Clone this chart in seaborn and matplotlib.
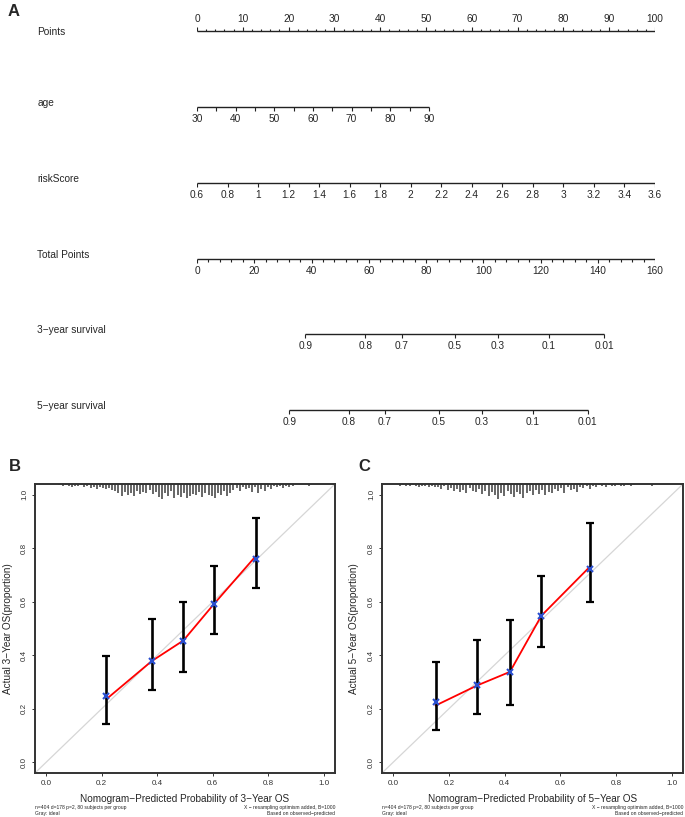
import numpy as np
import pandas as pd
import matplotlib
matplotlib.use('Agg')
import matplotlib.pyplot as plt
import seaborn as sns

# ---- nomogram (panel A) ----
points_ticks = [0, 10, 20, 30, 40, 50, 60, 70, 80, 90, 100]
age_ticks = [30, 40, 50, 60, 70, 80, 90]
age_max_points = 50.65          # points given to age = 90
risk_ticks = [0.6, 0.8, 1, 1.2, 1.4, 1.6, 1.8, 2, 2.2, 2.4, 2.6, 2.8, 3, 3.2, 3.4, 3.6]
total_ticks = [0, 20, 40, 60, 80, 100, 120, 140, 160]
surv_labels = ['0.9', '0.8', '0.7', '0.5', '0.3', '0.1', '0.01']
surv3_total = [37.9, 58.8, 71.5, 90.1, 105.0, 123.0, 142.2]
surv5_total = [32.2, 53.0, 65.7, 84.4, 99.4, 117.4, 136.5]

# ---- calibration, 3-year (panel B) ----
b_pred = [0.217, 0.380, 0.494, 0.603, 0.756]
b_obs = [0.236, 0.378, 0.455, 0.590, 0.772]
b_corr = [0.248, 0.378, 0.452, 0.593, 0.761]
b_lo = [0.143, 0.272, 0.339, 0.481, 0.652]
b_hi = [0.399, 0.535, 0.600, 0.733, 0.913]
b_spikes = [1, 2, 1, 2, 3, 2, 2, 1, 3, 2,
            4, 3, 5, 3, 4, 5, 4, 6, 7,
            9, 12, 8, 11, 9, 12, 7, 10, 8, 9, 6,
            10, 8, 13, 15, 9, 12, 7, 14, 11, 13, 9, 14, 12, 10,
            11, 8, 13, 9, 11, 12, 14, 9, 11, 7, 12, 9,
            6, 4, 7, 3, 5, 4, 8, 3, 9, 5, 7, 3,
            5, 2, 3, 2, 4, 2, 3, 2]
b_spike_range = (0.048, 0.887)
b_lone = (0.946, 2)

# ---- calibration, 5-year (panel C) ----
c_pred = [0.152, 0.301, 0.419, 0.532, 0.705]
c_obs = [0.212, 0.287, 0.338, 0.548, 0.730]
c_corr = [0.225, 0.287, 0.338, 0.548, 0.722]
c_lo = [0.122, 0.179, 0.215, 0.429, 0.600]
c_hi = [0.374, 0.457, 0.530, 0.696, 0.894]
c_spikes = [2, 1, 2, 2, 1, 2, 3, 2, 2, 3, 2, 3,
            3, 5, 2, 6, 4, 7, 5, 8, 6, 9, 4, 7, 8, 5,
            10, 7, 12, 8, 11, 15, 9, 12, 7, 10, 13, 8, 10, 14, 9, 7, 11, 6,
            10, 6, 11, 8, 9, 5, 7, 4, 9, 3, 6, 5, 8, 3, 4, 2, 5,
            2, 3, 1, 2, 3, 1, 2, 2, 1, 2, 2, 1, 2, 1]
c_spike_range = (0.025, 0.864)
c_lone = (0.930, 2)

foot_left = ['n=404 d=178 p=2, 80 subjects per group', 'Gray: ideal']
foot_right = ['X \u2212 resampling optimism added, B=1000', 'Based on observed\u2212predicted']

sns.set_style('white')
plt.rcParams['font.family'] = ['Liberation Sans', 'DejaVu Sans']

W, H = 685, 817
fig = plt.figure(figsize=(W / 100, H / 100), dpi=100)


def box(l, t, r, b):
    return [l / W, 1 - b / H, (r - l) / W, (b - t) / H]


LC = '#222222'
FS = 7.3

# ---------------- A: nomogram ----------------
ax = fig.add_axes(box(197, 0, 655, 440))
ax.set_xlim(0, 100)
ax.set_ylim(440, 0)
ax.axis('off')


def scale_row(y, pos, labels, minor=None, up=False, maj=4, mnr=2):
    sgn = -1 if up else 1
    ax.plot([min(pos + (minor or [])), max(pos + (minor or []))], [y, y], color=LC, lw=1.0,
            solid_capstyle='butt')
    ax.vlines(pos, y, y + sgn * maj, color=LC, lw=0.8)
    if minor:
        ax.vlines(minor, y, y + sgn * mnr, color=LC, lw=0.8)
    for p, t in zip(pos, labels):
        ax.text(p, y + sgn * 12, t, ha='center', va='center', fontsize=FS)


def row_name(y, name):
    ax.text(-34.9, y, name, ha='left', va='center', fontsize=FS, clip_on=False)


# Points
scale_row(31, points_ticks, [str(v) for v in points_ticks],
          minor=[v for v in np.arange(0, 101, 2) if v % 10], up=True, maj=4, mnr=2)
row_name(32, 'Points')

# age
age_pts = [(a - 30) * age_max_points / 60 for a in age_ticks]
age_minor = [(a - 30) * age_max_points / 60 for a in range(35, 90, 10)]
scale_row(107, age_pts, [str(a) for a in age_ticks], minor=age_minor, maj=4, mnr=4)
row_name(103, 'age')

# riskScore
risk_pts = [(r - 0.6) * 100 / 3 for r in risk_ticks]
scale_row(183, risk_pts, [f'{r:g}' for r in risk_ticks], maj=4)
row_name(179, 'riskScore')

# Total Points
tot_pts = [t * 100 / 160 for t in total_ticks]
tot_minor = [t * 100 / 160 for t in range(0, 161, 4) if t % 20]
scale_row(259, tot_pts, [str(t) for t in total_ticks], minor=tot_minor, maj=4, mnr=3)
row_name(255, 'Total Points')

# survival
scale_row(334, [t * 100 / 160 for t in surv3_total], surv_labels, maj=4)
row_name(330, '3\u2212year survival')
scale_row(410, [t * 100 / 160 for t in surv5_total], surv_labels, maj=4)
row_name(406, '5\u2212year survival')

fig.text(14 / W, 1 - 12 / H, 'A', fontsize=12, fontweight='bold', ha='center', va='center')


# ---------------- B / C: calibration ----------------
def calib(rect, letter, lx, pred, obs, corr, lo, hi, spikes, srange, lone, yr):
    cax = fig.add_axes(box(*rect))
    cax.set_xlim(-0.04, 1.04)
    cax.set_ylim(-0.04, 1.04)
    # ideal line
    cax.plot([-0.04, 1.04], [-0.04, 1.04], color='#d6d6d6', lw=0.9, zorder=1)
    # spike histogram of predicted probabilities
    sx = np.linspace(srange[0], srange[1], len(spikes))
    sh = np.array(spikes) * 0.0037
    cax.vlines(sx, 1.04 - sh, 1.04, color='#454545', lw=1.15, zorder=2)
    cax.vlines([lone[0]], 1.04 - lone[1] * 0.0037, 1.04, color='#454545', lw=1.15)
    # observed line
    df = pd.DataFrame({'pred': pred, 'obs': obs})
    sns.lineplot(data=df, x='pred', y='obs', color='red', lw=1.3, ax=cax, zorder=3)
    obs_a = np.array(obs)
    cax.errorbar(pred, obs, yerr=[obs_a - np.array(lo), np.array(hi) - obs_a], fmt='none',
                 ecolor='black', elinewidth=1.9, capsize=2.8, capthick=1.6, zorder=4)
    cax.plot(pred, corr, ls='none', marker='x', color='#2a4fd0', ms=4, mew=1.5, zorder=5)

    cax.set_xticks([0, 0.2, 0.4, 0.6, 0.8, 1.0])
    cax.set_yticks([0, 0.2, 0.4, 0.6, 0.8, 1.0])
    cax.set_xticklabels(['0.0', '0.2', '0.4', '0.6', '0.8', '1.0'])
    cax.set_yticklabels(['0.0', '0.2', '0.4', '0.6', '0.8', '1.0'], rotation=90, va='center')
    cax.tick_params(axis='both', labelsize=5.8, length=2.5, width=0.7, colors='#333333',
                    pad=2.5, bottom=True, left=True)
    for s in cax.spines.values():
        s.set_color('#333333')
        s.set_linewidth(1.4)
    cax.set_xlabel(f'Nomogram\u2212Predicted Probability of {yr}\u2212Year OS', fontsize=7.2)
    cax.xaxis.set_label_coords(0.5, -(799 - 773) / 289)
    cax.xaxis.label.set_va('center')
    cax.set_ylabel(f'Actual {yr}\u2212Year OS(proportion)', fontsize=7.2)
    cax.yaxis.set_label_coords(-(rect[0] - lx) / (rect[2] - rect[0]), 0.5)
    cax.yaxis.label.set_va('center')

    l, r = rect[0], rect[2]
    fig.text(l / W, 1 - 808 / H, foot_left[0], fontsize=3.6, ha='left', va='center')
    fig.text(l / W, 1 - 814 / H, foot_left[1], fontsize=3.6, ha='left', va='center')
    fig.text(r / W, 1 - 808 / H, foot_right[0], fontsize=3.6, ha='right', va='center')
    fig.text(r / W, 1 - 814 / H, foot_right[1], fontsize=3.6, ha='right', va='center')
    fig.text(letter[1] / W, 1 - 466 / H, letter[0], fontsize=12, fontweight='bold',
             ha='center', va='center')


calib((35, 484, 335, 773), ('B', 15), 8, b_pred, b_obs, b_corr, b_lo, b_hi,
      b_spikes, b_spike_range, b_lone, 3)
calib((382, 484, 683, 773), ('C', 364), 354, c_pred, c_obs, c_corr, c_lo, c_hi,
      c_spikes, c_spike_range, c_lone, 5)

plt.savefig('out.png', dpi=100)
